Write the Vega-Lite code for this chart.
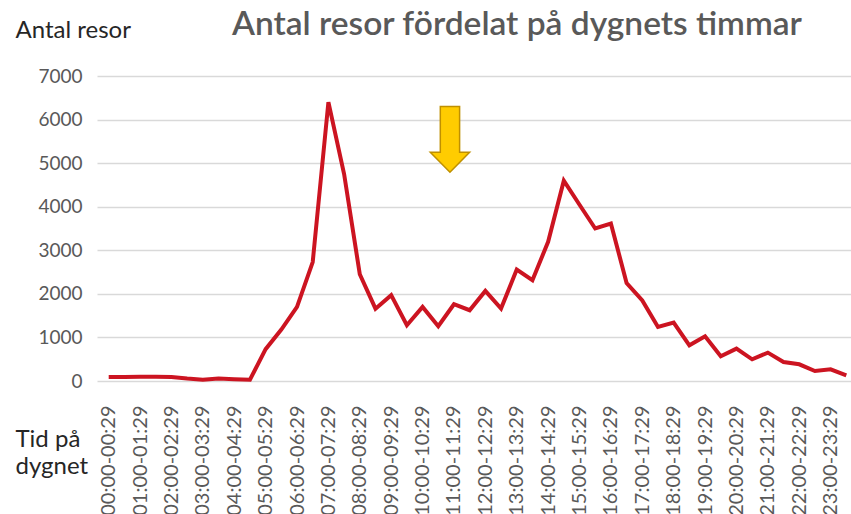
{
  "$schema": "https://vega.github.io/schema/vega-lite/v6.json",
  "width": 761,
  "height": 305,
  "padding": {"left": 15, "top": 7, "right": 0, "bottom": 0},
  "background": "#ffffff",
  "config": {"view": {"stroke": null}, "font": "Lato"},
  "title": {
    "text": "Antal resor fördelat på dygnets timmar",
    "anchor": "start",
    "frame": "group",
    "dx": 135,
    "fontSize": 33.5,
    "fontWeight": 600,
    "color": "#595959",
    "font": "Lato",
    "offset": -24
  },
  "layer": [
    {
      "data": {
        "values": [
          {"tid": "00:00-00:29", "resor": 90},
          {"tid": "00:30-00:59", "resor": 90},
          {"tid": "01:00-01:29", "resor": 95},
          {"tid": "01:30-01:59", "resor": 95},
          {"tid": "02:00-02:29", "resor": 90},
          {"tid": "02:30-02:59", "resor": 55},
          {"tid": "03:00-03:29", "resor": 30},
          {"tid": "03:30-03:59", "resor": 55},
          {"tid": "04:00-04:29", "resor": 40},
          {"tid": "04:30-04:59", "resor": 30},
          {"tid": "05:00-05:29", "resor": 730},
          {"tid": "05:30-05:59", "resor": 1180},
          {"tid": "06:00-06:29", "resor": 1700},
          {"tid": "06:30-06:59", "resor": 2730},
          {"tid": "07:00-07:29", "resor": 6400},
          {"tid": "07:30-07:59", "resor": 4750},
          {"tid": "08:00-08:29", "resor": 2450},
          {"tid": "08:30-08:59", "resor": 1660},
          {"tid": "09:00-09:29", "resor": 1970},
          {"tid": "09:30-09:59", "resor": 1280},
          {"tid": "10:00-10:29", "resor": 1700},
          {"tid": "10:30-10:59", "resor": 1256},
          {"tid": "11:00-11:29", "resor": 1762},
          {"tid": "11:30-11:59", "resor": 1624},
          {"tid": "12:00-12:29", "resor": 2068},
          {"tid": "12:30-12:59", "resor": 1662},
          {"tid": "13:00-13:29", "resor": 2558},
          {"tid": "13:30-13:59", "resor": 2313},
          {"tid": "14:00-14:29", "resor": 3194},
          {"tid": "14:30-14:59", "resor": 4596},
          {"tid": "15:00-15:29", "resor": 4045},
          {"tid": "15:30-15:59", "resor": 3500},
          {"tid": "16:00-16:29", "resor": 3615},
          {"tid": "16:30-16:59", "resor": 2250},
          {"tid": "17:00-17:29", "resor": 1850},
          {"tid": "17:30-17:59", "resor": 1240},
          {"tid": "18:00-18:29", "resor": 1340},
          {"tid": "18:30-18:59", "resor": 820},
          {"tid": "19:00-19:29", "resor": 1026},
          {"tid": "19:30-19:59", "resor": 567},
          {"tid": "20:00-20:29", "resor": 743},
          {"tid": "20:30-20:59", "resor": 498},
          {"tid": "21:00-21:29", "resor": 651},
          {"tid": "21:30-21:59", "resor": 437},
          {"tid": "22:00-22:29", "resor": 383},
          {"tid": "22:30-22:59", "resor": 230},
          {"tid": "23:00-23:29", "resor": 268},
          {"tid": "23:30-23:59", "resor": 130}
        ]
      },
      "mark": {"type": "line", "color": "#cc1421", "strokeWidth": 4, "strokeJoin": "miter"},
      "encoding": {
        "x": {
          "field": "tid",
          "type": "ordinal",
          "sort": null,
          "scale": {"type": "point", "padding": 0.745},
          "axis": {
            "values": ["00:00-00:29","01:00-01:29","02:00-02:29","03:00-03:29","04:00-04:29","05:00-05:29","06:00-06:29","07:00-07:29","08:00-08:29","09:00-09:29","10:00-10:29","11:00-11:29","12:00-12:29","13:00-13:29","14:00-14:29","15:00-15:29","16:00-16:29","17:00-17:29","18:00-18:29","19:00-19:29","20:00-20:29","21:00-21:29","22:00-22:29","23:00-23:29"],
            "labelAngle": -90,
            "labelAlign": "right",
            "labelBaseline": "middle",
            "labelFontSize": 20,
            "labelColor": "#595959",
            "labelPadding": 24,
            "labelOverlap": false,
            "labelFont": "Lato",
            "domain": false,
            "ticks": false,
            "grid": false,
            "title": ["Tid på", "dygnet"],
            "titleAngle": 0,
            "titleAlign": "left",
            "titleBaseline": "alphabetic",
            "titleX": -82,
            "titleY": 65,
            "titleFontSize": 24,
            "titleFontWeight": "normal",
            "titleColor": "#262626",
            "titleFont": "Lato",
            "titleLineHeight": 27
          }
        },
        "y": {
          "field": "resor",
          "type": "quantitative",
          "scale": {"domain": [0, 7000]},
          "axis": {
            "values": [0, 1000, 2000, 3000, 4000, 5000, 6000, 7000],
            "format": "d",
            "labelFontSize": 19,
            "labelColor": "#595959",
            "labelPadding": 15,
            "labelFont": "Lato",
            "domain": false,
            "ticks": false,
            "grid": true,
            "gridColor": "#d9d9d9",
            "gridWidth": 1.5,
            "title": "Antal resor",
            "titleAngle": 0,
            "titleAlign": "left",
            "titleBaseline": "alphabetic",
            "titleX": -82,
            "titleY": -39,
            "titleFontSize": 24,
            "titleFontWeight": "normal",
            "titleColor": "#262626",
            "titleFont": "Lato"
          }
        }
      }
    },
    {
      "data": {"values": [{"tid": "11:00-11:29", "resor": 5545}]},
      "mark": {
        "type": "point",
        "shape": "M -0.294 -1 L 0.294 -1 L 0.294 0.39 L 0.6 0.39 L 0 1 L -0.6 0.39 L -0.294 0.39 Z",
        "size": 4303,
        "filled": true,
        "fill": "#ffcc00",
        "stroke": "#bf9000",
        "strokeWidth": 1.5,
        "opacity": 1,
        "xOffset": -4
      },
      "encoding": {
        "x": {"field": "tid", "type": "ordinal", "sort": null},
        "y": {"field": "resor", "type": "quantitative"}
      }
    }
  ]
}
